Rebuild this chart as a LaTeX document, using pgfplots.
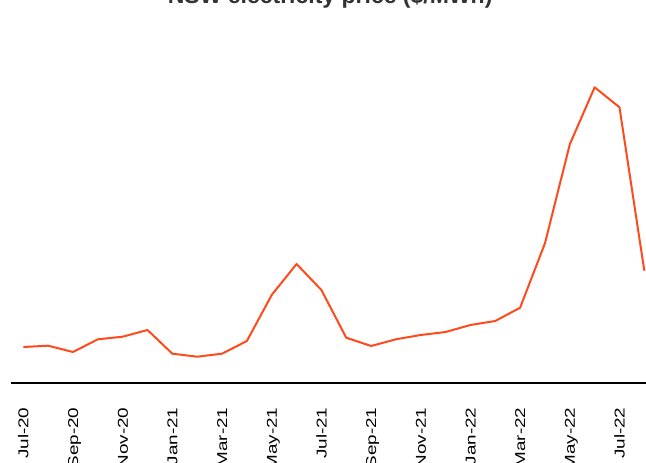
\documentclass[border=0pt]{standalone}
\usepackage{fontspec}
\setmainfont{Liberation Sans}
\usepackage{graphicx}
\usepackage{pgfplots}
\pgfplotsset{compat=1.18}
\definecolor{priceline}{HTML}{FF4A1C}
\definecolor{titlegray}{HTML}{333333}
\newcommand{\lab}[1]{\scalebox{1.32}[1]{#1}}

\begin{document}
\begin{tikzpicture}
\begin{axis}[
   at={(0,0)}, anchor=south west,
   scale only axis,
   width=635.9pt, height=360pt,
   xmin=-0.5, xmax=25.1,
   ymin=0, ymax=360,
   axis x line*=bottom,
   axis y line=none,
   axis line style={line width=2pt, black},
   xtick={0,2,...,24},
   xticklabels={\lab{Jul-20},\lab{Sep-20},\lab{Nov-20},\lab{Jan-21},\lab{Mar-21},\lab{May-21},\lab{Jul-21},\lab{Sep-21},\lab{Nov-21},\lab{Jan-22},\lab{Mar-22},\lab{May-22},\lab{Jul-22}},
   major tick length=0pt,
   xticklabel shift=24pt,
   xticklabel style={rotate=90, anchor=east, inner sep=0pt,
       text height=10.2pt, text depth=0pt, font=\fontsize{14.3}{16}\selectfont, black},
   ytick=\empty,
   clip=false,
]
% NSW monthly average, Jul-20 (0) to Aug-22 (25)
\addplot[priceline, line width=2pt, line join=round, no markers] coordinates {
(0, 36.3)
(1, 37.6)
(2, 31.3)
(3, 44.0)
(4, 46.6)
(5, 53.3)
(6, 29.6)
(7, 26.6)
(8, 29.6)
(9, 42.3)
(10, 88.3)
(11, 119.3)
(12, 93.3)
(13, 45.6)
(14, 37.3)
(15, 44.0)
(16, 48.3)
(17, 51.3)
(18, 58.3)
(19, 62.3)
(20, 75.6)
(21, 140.0)
(22, 239.0)
(23, 296.0)
(24, 276.0)
(25, 112.6)
};
\node[anchor=base, font=\fontsize{23}{26}\selectfont\bfseries, text=titlegray, inner sep=0pt]
   at (rel axis cs:0.502,1) [yshift=19.3pt] {NSW electricity price (\$/MWh)};
\end{axis}
\pgfresetboundingbox
\path[use as bounding box] (-10.9pt,-79.7pt) rectangle (635.1pt,383.3pt);
\end{tikzpicture}
\end{document}
